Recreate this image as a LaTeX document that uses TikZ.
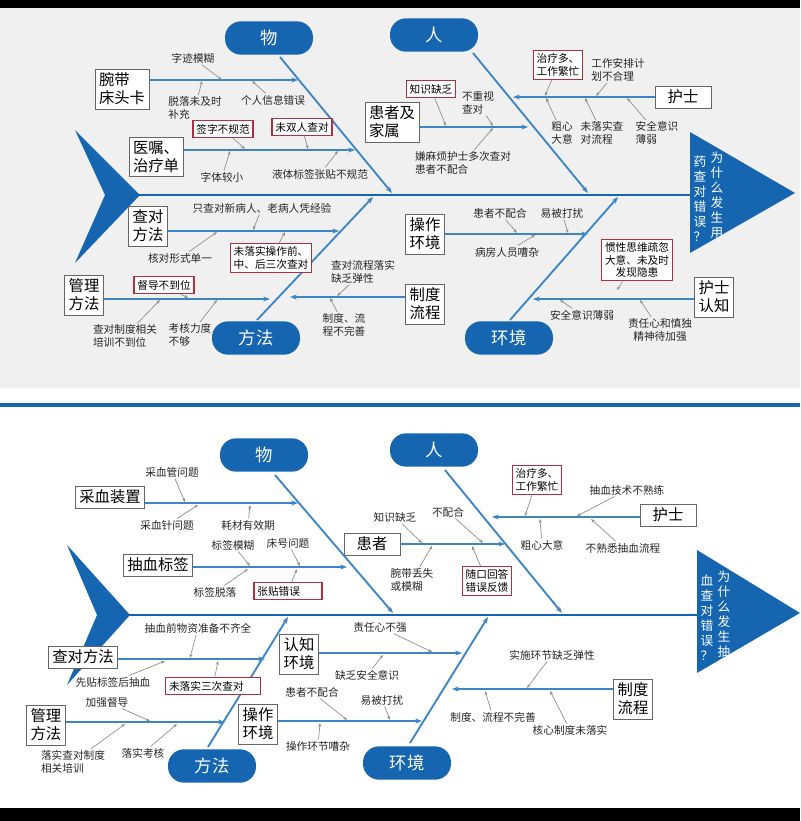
\documentclass[tikz,border=0pt]{standalone}
\usepackage{fontspec}
\setmainfont{Noto Sans CJK SC}
\usetikzlibrary{arrows.meta}
\definecolor{fishblue}{HTML}{1565B0}
\definecolor{lineblue}{HTML}{3C86C8}
\definecolor{boxred}{HTML}{B03040}
\tikzset{
  cat/.style={fill=fishblue,text=white,rounded corners=12pt,minimum width=66pt,minimum height=25pt,font=\fontsize{13}{15}\selectfont},
  box/.style={draw=black!60,fill=white,align=left,inner sep=3pt,font=\fontsize{11.5}{13.5}\selectfont},
  rbox/.style={draw=boxred,line width=0.8pt,fill=white,align=left,inner sep=2.5pt,font=\fontsize{8}{9.5}\selectfont},
  lbl/.style={align=left,inner sep=1pt,text=black!85,font=\fontsize{8}{9.5}\selectfont},
  spine/.style={draw=fishblue,line width=2.2pt},
  bone/.style={draw=lineblue,line width=1.4pt,-{Stealth[length=5pt]}},
  branch/.style={draw=lineblue,line width=1.4pt,-{Stealth[length=5pt]}},
  tick/.style={draw=black!45,line width=0.5pt,-{Stealth[length=3pt]}},
  head/.style={text=white,align=center,inner sep=0pt,font=\fontsize{9.5}{11.2}\selectfont}
}
\begin{document}
\begin{tikzpicture}[x=0.75pt,y=-0.75pt]
  \useasboundingbox (0,0) rectangle (800,821);
  % panels
  \fill[black] (0,0) rectangle (800,821);
  \fill[white] (0,8) rectangle (800,808);
  \fill[black!6] (0,8) rectangle (800,388);
  \fill[fishblue] (0,403) rectangle (800,407);

  %%% upper fishbone
  \fill[fishblue] (75,130) -- (140,195) -- (75,263) -- (105,195) -- cycle;
  \fill[fishblue] (690,132) -- (795,193) -- (690,253) -- cycle;
  \draw[spine] (105,195) -- (690,195);
  \node[head] (q1a) at (717,195) {为\\什\\么\\发\\生\\用};
  \node[head] (q1b) at (700,199) {药\\查\\对\\错\\误\\？};

  \node[cat] (wu) at (269,38) {物};
  \node[cat] (ren) at (434,35) {人};
  \node[cat] (ff) at (256,338) {方法};
  \node[cat] (hj) at (509,338) {环境};

  \coordinate (b1) at (392,193);
  \coordinate (b2) at (588,193);
  \coordinate (b3) at (373,197);
  \coordinate (b4) at (618,197);
  \draw[bone] (280,57) -- (b1);
  \draw[bone] (473,53) -- (b2);
  \draw[bone] (257,320) -- (b3);
  \draw[bone] (510,320) -- (b4);

  \node[box] (wd) at (122,89) {腕带\\床头卡};
  \node[box] (yz) at (156,157) {医嘱、\\治疗单};
  \node[box] (cd) at (148,226) {查对\\方法};
  \node[box] (gl) at (84,295) {管理\\方法};
  \node[box] (zd) at (425,304) {制度\\流程};
  \node[box] (hz) at (392,122) {患者及\\家属};
  \node[box,minimum width=42pt] (hs) at (683,97) {护士};
  \node[box] (cz) at (425,234) {操作\\环境};
  \node[box] (rz) at (714,297) {护士\\认知};

  \coordinate (e1) at (298,80);
  \coordinate (e2) at (355,150);
  \coordinate (e3) at (339,231);
  \coordinate (e4) at (270,299);
  \coordinate (e5) at (290,297);
  \coordinate (e6) at (528,127);
  \coordinate (e7) at (513,97);
  \coordinate (e8) at (588,234);
  \coordinate (e9) at (533,299);
  \draw[branch] (wd.east |- e1) -- (e1);
  \draw[branch] (yz.east |- e2) -- (e2);
  \draw[branch] (cd.east |- e3) -- (e3);
  \draw[branch] (gl.east |- e4) -- (e4);
  \draw[branch] (zd.west |- e5) -- (e5);
  \draw[branch] (hz.east |- e6) -- (e6);
  \draw[branch] (hs.west |- e7) -- (e7);
  \draw[branch] (cz.east |- e8) -- (e8);
  \draw[branch] (rz.west |- e9) -- (e9);

  % causes
  \node[lbl] (a1) at (193,58) {字迹模糊};
  \node[lbl] (a2) at (195,108) {脱落未及时\\补充};
  \node[lbl] (a3) at (273,100) {个人信息错误};
  \node[rbox] (a4) at (223,129) {签字不规范};
  \node[rbox] (a5) at (302,127) {未双人查对};
  \node[lbl] (a6) at (222,177) {字体较小};
  \node[lbl] (a7) at (320,174) {液体标签张贴不规范};
  \node[lbl] (a8) at (262,208) {只查对新病人、老病人凭经验};
  \node[lbl] (a9) at (180,258) {核对形式单一};
  \node[rbox] (a10) at (271,258) {未落实操作前、\\中、后三次查对};
  \node[rbox] (a11) at (164,285) {督导不到位};
  \node[lbl] (a12) at (125,336) {查对制度相关\\培训不到位};
  \node[lbl] (a13) at (190,335) {考核力度\\不够};
  \node[lbl] (a14) at (363,272) {查对流程落实\\缺乏弹性};
  \node[lbl] (a15) at (344,325) {制度、流\\程不完善};
  \node[rbox] (a16) at (431,89) {知识缺乏};
  \node[lbl] (a17) at (478,103) {不重视\\查对};
  \node[lbl] (a18) at (463,163) {嫌麻烦护士多次查对\\患者不配合};
  \node[rbox] (a19) at (558,65) {治疗多、\\工作繁忙};
  \node[lbl] (a20) at (618,70) {工作安排计\\划不合理};
  \node[lbl] (a21) at (562,133) {粗心\\大意};
  \node[lbl] (a22) at (602,133) {未落实查\\对流程};
  \node[lbl] (a23) at (657,133) {安全意识\\薄弱};
  \node[lbl] (a24) at (500,213) {患者不配合};
  \node[lbl] (a25) at (562,213) {易被打扰};
  \node[lbl] (a26) at (507,252) {病房人员嘈杂};
  \node[rbox,align=center] (a27) at (637,260) {惯性思维疏忽\\大意、未及时\\发现隐患};
  \node[lbl] (a28) at (582,315) {安全意识薄弱};
  \node[lbl,align=center] (a29) at (660,330) {责任心和慎独\\精神待加强};

  \draw[tick] (a1) -- (222,80);
  \draw[tick] (a2) -- (202,81);
  \draw[tick] (a3) -- (252,81);
  \draw[tick] (a4) -- (245,149);
  \draw[tick] (a5) -- (308,149);
  \draw[tick] (a6) -- (230,151);
  \draw[tick] (a7) -- (338,151);
  \draw[tick] (a8) -- (253,230);
  \draw[tick] (a9) -- (217,232);
  \draw[tick] (a10) -- (285,232);
  \draw[tick] (a11) -- (188,298);
  \draw[tick] (a12) -- (160,300);
  \draw[tick] (a13) -- (217,300);
  \draw[tick] (a14) -- (337,296);
  \draw[tick] (a15) -- (330,298);
  \draw[tick] (a16) -- (446,126);
  \draw[tick] (a17) -- (493,126);
  \draw[tick] (a18) -- (493,128);
  \draw[tick] (a19) -- (545,96);
  \draw[tick] (a20) -- (596,96);
  \draw[tick] (a21) -- (546,98);
  \draw[tick] (a22) -- (585,98);
  \draw[tick] (a23) -- (627,98);
  \draw[tick] (a24) -- (517,233);
  \draw[tick] (a25) -- (568,233);
  \draw[tick] (a26) -- (535,235);
  \draw[tick] (a27) -- (617,290);
  \draw[tick] (a28) -- (560,300);
  \draw[tick] (a29) -- (640,300);

  %%% lower fishbone
  \fill[fishblue] (67,545) -- (130,615) -- (67,685) -- (97,615) -- cycle;
  \fill[fishblue] (697,550) -- (800,613) -- (697,673) -- cycle;
  \draw[spine] (97,615) -- (697,615);
  \node[head] (q2a) at (724,614) {为\\什\\么\\发\\生\\抽};
  \node[head] (q2b) at (707,618) {血\\查\\对\\错\\误\\？};

  \node[cat] (wu2) at (264,455) {物};
  \node[cat] (ren2) at (434,450) {人};
  \node[cat] (ff2) at (212,766) {方法};
  \node[cat] (hj2) at (407,763) {环境};

  \coordinate (c1) at (393,613);
  \coordinate (c2) at (562,613);
  \coordinate (c3) at (288,617);
  \coordinate (c4) at (488,617);
  \draw[bone] (275,475) -- (c1);
  \draw[bone] (445,470) -- (c2);
  \draw[bone] (208,747) -- (c3);
  \draw[bone] (410,743) -- (c4);

  \node[box] (cx) at (110,497) {采血装置};
  \node[box] (bq) at (158,565) {抽血标签};
  \node[box] (cd2) at (83,657) {查对方法};
  \node[box] (gl2) at (46,725) {管理\\方法};
  \node[box] (rz2) at (299,654) {认知\\环境};
  \node[box] (cz2) at (258,724) {操作\\环境};
  \node[box,minimum width=42pt] (hz2) at (372,544) {患者};
  \node[box,minimum width=42pt] (hs2) at (668,515) {护士};
  \node[box] (zd2) at (633,699) {制度\\流程};

  \coordinate (f1) at (298,503);
  \coordinate (f2) at (347,567);
  \coordinate (f3) at (265,659);
  \coordinate (f4) at (225,722);
  \coordinate (f5) at (462,653);
  \coordinate (f6) at (422,721);
  \coordinate (f7) at (505,544);
  \coordinate (f8) at (492,517);
  \coordinate (f9) at (452,689);
  \draw[branch] (cx.east |- f1) -- (f1);
  \draw[branch] (bq.east |- f2) -- (f2);
  \draw[branch] (cd2.east |- f3) -- (f3);
  \draw[branch] (gl2.east |- f4) -- (f4);
  \draw[branch] (rz2.east |- f5) -- (f5);
  \draw[branch] (cz2.east |- f6) -- (f6);
  \draw[branch] (hz2.east |- f7) -- (f7);
  \draw[branch] (hs2.west |- f8) -- (f8);
  \draw[branch] (zd2.west |- f9) -- (f9);

  % causes
  \node[lbl] (d1) at (172,472) {采血管问题};
  \node[lbl] (d2) at (167,525) {采血针问题};
  \node[lbl] (d3) at (248,525) {耗材有效期};
  \node[lbl] (d4) at (233,545) {标签模糊};
  \node[lbl] (d5) at (288,543) {床号问题};
  \node[lbl] (d6) at (215,592) {标签脱落};
  \node[rbox] (d7) at (288,591) {张贴错误\hspace{14pt}};
  \node[lbl] (d8) at (198,628) {抽血前物资准备不齐全};
  \node[lbl] (d9) at (113,682) {先贴标签后抽血};
  \node[rbox] (d10) at (213,686) {未落实三次查对\hspace{10pt}};
  \node[lbl] (d11) at (107,702) {加强督导};
  \node[lbl] (d12) at (73,762) {落实查对制度\\相关培训};
  \node[lbl] (d13) at (143,753) {落实考核};
  \node[lbl] (d14) at (380,627) {责任心不强};
  \node[lbl] (d15) at (367,675) {缺乏安全意识};
  \node[lbl] (d16) at (312,692) {患者不配合};
  \node[lbl] (d17) at (382,700) {易被打扰};
  \node[lbl] (d18) at (318,746) {操作环节嘈杂};
  \node[lbl] (d19) at (395,517) {知识缺乏};
  \node[lbl] (d20) at (448,512) {不配合};
  \node[lbl] (d21) at (412,580) {腕带丢失\\或模糊};
  \node[rbox] (d22) at (487,581) {随口回答\\错误反馈};
  \node[rbox] (d23) at (537,480) {治疗多、\\工作繁忙};
  \node[lbl] (d24) at (627,490) {抽血技术不熟练};
  \node[lbl] (d25) at (542,545) {粗心大意};
  \node[lbl] (d26) at (623,548) {不熟悉抽血流程};
  \node[lbl] (d27) at (552,655) {实施环节缺乏弹性};
  \node[lbl] (d28) at (493,717) {制度、流程不完善};
  \node[lbl] (d29) at (570,730) {核心制度未落实};

  \draw[tick] (d1) -- (185,502);
  \draw[tick] (d2) -- (198,505);
  \draw[tick] (d3) -- (250,505);
  \draw[tick] (d4) -- (250,566);
  \draw[tick] (d5) -- (300,566);
  \draw[tick] (d6) -- (248,569);
  \draw[tick] (d7) -- (297,569);
  \draw[tick] (d8) -- (190,658);
  \draw[tick] (d9) -- (165,661);
  \draw[tick] (d10) -- (218,661);
  \draw[tick] (d11) -- (150,721);
  \draw[tick] (d12) -- (125,724);
  \draw[tick] (d13) -- (177,724);
  \draw[tick] (d14) -- (432,652);
  \draw[tick] (d15) -- (383,655);
  \draw[tick] (d16) -- (347,720);
  \draw[tick] (d17) -- (390,720);
  \draw[tick] (d18) -- (320,723);
  \draw[tick] (d19) -- (422,543);
  \draw[tick] (d20) -- (483,543);
  \draw[tick] (d21) -- (432,546);
  \draw[tick] (d22) -- (472,546);
  \draw[tick] (d23) -- (525,516);
  \draw[tick] (d24) -- (577,516);
  \draw[tick] (d25) -- (540,519);
  \draw[tick] (d26) -- (591,519);
  \draw[tick] (d27) -- (527,688);
  \draw[tick] (d28) -- (485,691);
  \draw[tick] (d29) -- (550,691);
\end{tikzpicture}
\end{document}
